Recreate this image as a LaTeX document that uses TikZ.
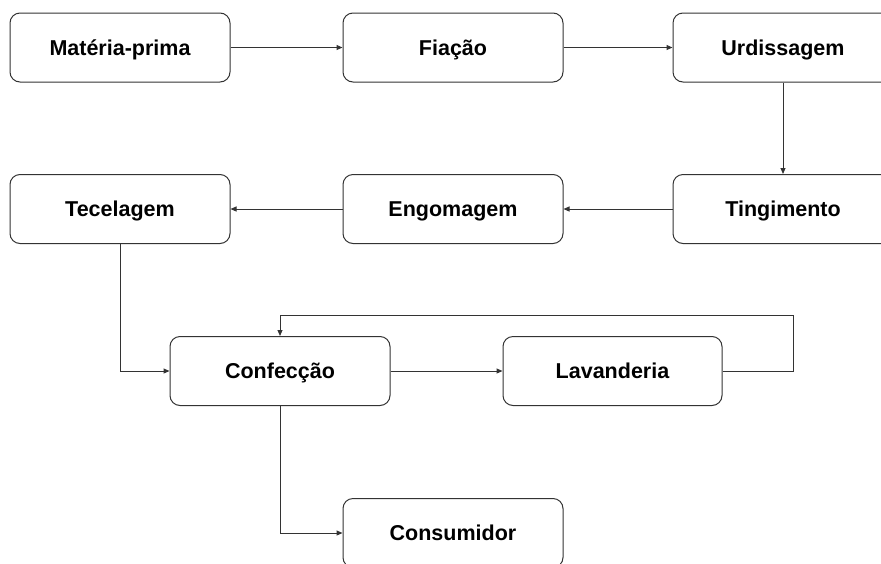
\documentclass[tikz,border=0pt]{standalone}
\usepackage{fontspec}
\setmainfont{Liberation Sans}
\usetikzlibrary{arrows.meta}
\definecolor{edge}{HTML}{333333}
\tikzset{
  box/.style={draw=edge, line width=1pt, rounded corners=10pt, minimum width=220pt, minimum height=69pt, inner sep=0pt, text height=20pt, text depth=4.6pt, font=\fontsize{21.5}{24}\selectfont\bfseries, text=black},
  conn/.style={draw=edge, line width=1pt, -{Triangle[length=6pt,width=5pt]}}
}
\begin{document}
\begin{tikzpicture}[x=1pt,y=-1pt]
\useasboundingbox (0,0) rectangle (881,563);
\clip (0,0) rectangle (881,563);
\fill[white] (0,0) rectangle (881,563);
\node[box] (mp) at (120,47.5) {Matéria-prima};
\node[box] (fi) at (453,47.5) {Fiação};
\node[box] (ur) at (783,47.5) {Urdissagem};
\node[box] (ti) at (783,209) {Tingimento};
\node[box] (en) at (453,209) {Engomagem};
\node[box] (te) at (120,209) {Tecelagem};
\node[box] (co) at (280,371) {Confecção};
\node[box, minimum width=219pt] (la) at (612.5,371) {Lavanderia};
\node[box] (cs) at (453,533) {Consumidor};
\coordinate (lp) at (793,315);
\draw[conn] (mp) -- (fi);
\draw[conn] (fi) -- (ur);
\draw[conn] (ur) -- (ti);
\draw[conn] (ti) -- (en);
\draw[conn] (en) -- (te);
\draw[conn] (te.south) |- (co.west);
\draw[conn] (co) -- (la);
\draw[conn] (la.east) -| (lp) -| (co.north);
\draw[conn] (co.south) |- (cs.west);
\end{tikzpicture}
\end{document}
